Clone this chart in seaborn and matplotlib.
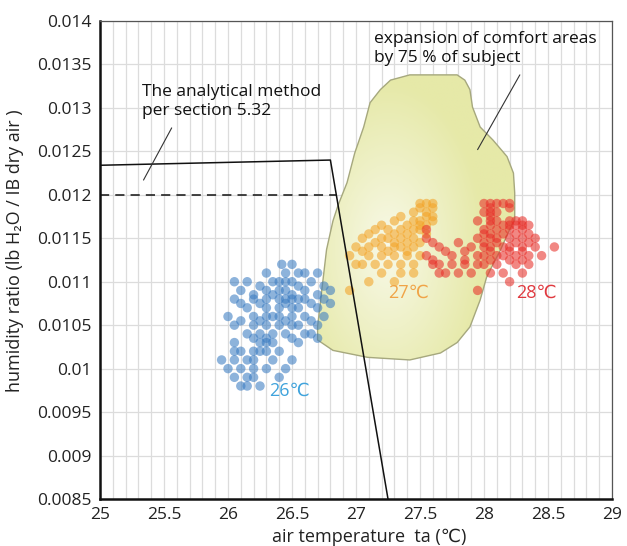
import numpy as np
import pandas as pd
import matplotlib
matplotlib.use("Agg")
import matplotlib.pyplot as plt
from matplotlib.patches import Polygon
from matplotlib.colors import LinearSegmentedColormap
import seaborn as sns

# --- data ---
# 26 C group: (humidity row, list of air temperatures)
blue_rows = [
    (0.0112, [26.42, 26.5]),
    (0.0111, [26.3, 26.45, 26.55, 26.6, 26.7]),
    (0.0110, [26.05, 26.15, 26.35, 26.4, 26.45, 26.5, 26.65]),
    (0.01095, [26.25, 26.55, 26.75]),
    (0.0109, [26.1, 26.3, 26.4, 26.45, 26.6, 26.8]),
    (0.01085, [26.2, 26.35, 26.5, 26.7]),
    (0.0108, [26.05, 26.2, 26.3, 26.4, 26.45, 26.5, 26.55, 26.6, 26.75]),
    (0.01075, [26.1, 26.25, 26.45, 26.65, 26.8]),
    (0.0107, [26.15, 26.3, 26.4, 26.5, 26.55, 26.7]),
    (0.0106, [26.0, 26.2, 26.3, 26.35, 26.4, 26.5, 26.6, 26.75]),
    (0.01055, [26.1, 26.25, 26.45, 26.65]),
    (0.0105, [26.05, 26.2, 26.3, 26.4, 26.5, 26.55, 26.7]),
    (0.0104, [26.15, 26.25, 26.35, 26.45, 26.6, 26.65]),
    (0.01035, [26.2, 26.3, 26.5, 26.7]),
    (0.0103, [26.05, 26.25, 26.3, 26.35, 26.55]),
    (0.0102, [26.05, 26.1, 26.2, 26.25, 26.3, 26.4]),
    (0.0101, [25.95, 26.05, 26.15, 26.2, 26.35, 26.5]),
    (0.0100, [26.0, 26.1, 26.2, 26.3, 26.45]),
    (0.0099, [26.05, 26.15, 26.2, 26.4]),
    (0.0098, [26.1, 26.15, 26.25]),
]
orange_rows = [
    (0.0119, [27.5, 27.55, 27.6]),
    (0.01185, [27.5, 27.6]),
    (0.0118, [27.45, 27.55]),
    (0.01175, [27.35, 27.55, 27.6]),
    (0.0117, [27.3, 27.45, 27.5, 27.6]),
    (0.01165, [27.2, 27.4, 27.5, 27.55]),
    (0.0116, [27.15, 27.25, 27.35, 27.45, 27.5]),
    (0.01155, [27.1, 27.3, 27.4, 27.55]),
    (0.0115, [27.05, 27.2, 27.25, 27.35, 27.45]),
    (0.01145, [27.15, 27.3, 27.4, 27.5]),
    (0.0114, [27.0, 27.1, 27.2, 27.3, 27.35, 27.45]),
    (0.01135, [27.05, 27.25, 27.4]),
    (0.0113, [26.95, 27.1, 27.2, 27.3, 27.4, 27.5]),
    (0.0112, [27.0, 27.05, 27.15, 27.25, 27.35, 27.45]),
    (0.0111, [27.2, 27.35, 27.45]),
    (0.0110, [27.1, 27.3]),
    (0.0109, [26.95]),
]
red_rows = [
    (0.0119, [28.0, 28.05, 28.1, 28.15, 28.2]),
    (0.01185, [28.05, 28.2]),
    (0.0118, [28.0, 28.05, 28.1]),
    (0.01175, [28.05]),
    (0.0117, [27.95, 28.05, 28.1, 28.2, 28.25, 28.3]),
    (0.01165, [28.05, 28.15, 28.2, 28.25, 28.3, 28.35]),
    (0.0116, [27.55, 28.0, 28.1, 28.2, 28.3]),
    (0.01155, [28.0, 28.05, 28.15, 28.25, 28.35]),
    (0.0115, [27.55, 27.95, 28.05, 28.1, 28.2, 28.3, 28.4]),
    (0.01145, [27.6, 27.8, 28.0, 28.1, 28.25, 28.35]),
    (0.0114, [27.65, 27.9, 28.0, 28.05, 28.15, 28.2, 28.3, 28.4, 28.55]),
    (0.01135, [27.7, 27.85, 28.05, 28.2, 28.3]),
    (0.0113, [27.55, 27.75, 27.95, 28.0, 28.1, 28.15, 28.25, 28.35, 28.45]),
    (0.01125, [27.6, 27.85, 28.05, 28.2, 28.3]),
    (0.0112, [27.6, 27.65, 27.75, 27.85, 27.95, 28.0, 28.1, 28.25, 28.35]),
    (0.0111, [27.65, 27.7, 27.8, 27.9, 28.05, 28.15, 28.3]),
    (0.0110, [28.2]),
    (0.0109, [27.95]),
]

# comfort area outline (75 % of subjects), clockwise from top left
comfort_t = [27.27, 27.42, 27.79, 27.85, 27.89, 27.91, 27.97, 28.07, 28.18, 28.23,
             28.24, 28.24, 28.20, 28.13, 28.06, 28.02, 27.97, 27.89, 27.79, 27.66,
             27.42, 27.09, 26.82, 26.70, 26.70, 26.73, 26.77, 26.82, 26.86, 26.93,
             26.99, 27.06, 27.11, 27.19]
comfort_h = [0.01332, 0.01338, 0.01338, 0.01332, 0.01321, 0.01301, 0.01278, 0.01263,
             0.01244, 0.01225, 0.01202, 0.01171, 0.01160, 0.01137, 0.01117, 0.01105,
             0.01079, 0.01048, 0.01030, 0.01018, 0.01010, 0.01013, 0.01021, 0.01033,
             0.01048, 0.01087, 0.01137, 0.01170, 0.01188, 0.01214, 0.01248, 0.01278,
             0.01306, 0.01321]

# analytical method boundary
method_t = [25.0, 26.80, 27.25]
method_h = [0.01234, 0.01240, 0.0085]
dashed_t = [25.0, 26.84]
dashed_h = [0.0120, 0.0120]

# leader lines of the two notes
leader1_t = [25.34, 25.56]
leader1_h = [0.01217, 0.01277]
leader2_t = [28.28, 27.95]
leader2_h = [0.01338, 0.01252]

x_ticks = [25, 25.5, 26, 26.5, 27, 27.5, 28, 28.5, 29]
y_ticks = [0.0085, 0.009, 0.0095, 0.01, 0.0105, 0.011, 0.0115, 0.012, 0.0125,
           0.013, 0.0135, 0.014]
y_tick_labels = ["0.0085", "0.009", "0.0095", "0.01", "0.0105", "0.011", "0.0115",
                 "0.012", "0.0125", "0.013", "0.0135", "0.014"]


def rows_to_frame(rows, group):
    recs = [(t, h, group) for h, ts in rows for t in ts]
    return pd.DataFrame(recs, columns=["ta", "hr", "group"])


df = pd.concat([rows_to_frame(blue_rows, "26"),
                rows_to_frame(orange_rows, "27"),
                rows_to_frame(red_rows, "28")], ignore_index=True)

sns.set_style("white")
plt.rcParams["font.family"] = ["Open Sans", "DejaVu Sans"]

fig = plt.figure(figsize=(6.27, 5.46), dpi=100)
ax = fig.add_axes([100 / 627, 47 / 546, 512 / 627, 478 / 546])

ax.set_xlim(25, 29)
ax.set_ylim(0.0085, 0.014)

# grid
ax.set_xticks(np.arange(25, 29.001, 0.1), minor=True)
ax.set_xticks(x_ticks)
ax.set_xticklabels([f"{v:g}" for v in x_ticks])
ax.set_yticks(y_ticks)
ax.set_yticklabels(y_tick_labels)
ax.grid(which="both", axis="x", color="#dcdcdc", lw=0.9)
ax.grid(which="major", axis="y", color="#dcdcdc", lw=0.9)
ax.tick_params(which="both", length=0, labelsize=12.5, colors="#222222", pad=6)
ax.set_axisbelow(True)

for side in ["top", "right"]:
    ax.spines[side].set_color("#555555")
    ax.spines[side].set_linewidth(0.9)
for side in ["left", "bottom"]:
    ax.spines[side].set_color("#111111")
    ax.spines[side].set_linewidth(1.8)

# comfort area with soft light centre
outline = np.column_stack([comfort_t, comfort_h])
poly = Polygon(outline, closed=True, facecolor="#e6e9a8", edgecolor="none", zorder=1)
ax.add_patch(poly)
gx, gy = np.meshgrid(np.linspace(26.6, 28.3, 200), np.linspace(0.0100, 0.0135, 200))
dist = np.sqrt(((gx - 27.25) / 0.75) ** 2 + ((gy - 0.0114) / 0.0019) ** 2)
cmap = LinearSegmentedColormap.from_list("comfort", ["#f8f9e8", "#eff1c8", "#e6e9a8"])
img = ax.imshow(np.clip(dist, 0, 1), extent=[26.6, 28.3, 0.0100, 0.0135], origin="lower",
                cmap=cmap, vmin=0, vmax=1, aspect="auto", zorder=1.1)
img.set_clip_path(poly)
edge = Polygon(outline, closed=True, facecolor="none", edgecolor="#a6a87e",
               lw=1.0, joinstyle="round", zorder=1.2)
ax.add_patch(edge)

# scatter clouds
palette = {"26": "#3b7cc2", "27": "#f3a428", "28": "#e8302a"}
sns.scatterplot(data=df, x="ta", y="hr", hue="group", palette=palette, s=46,
                alpha=0.58, edgecolor="none", legend=False, ax=ax, zorder=3)

# analytical method boundary
ax.plot(method_t, method_h, color="#111111", lw=1.1, zorder=4)
ax.plot(dashed_t, dashed_h, color="#111111", lw=1.1, ls=(0, (6, 4)), zorder=4)

# notes
ax.plot(leader1_t, leader1_h, color="#333333", lw=0.8, zorder=4)
ax.plot(leader2_t, leader2_h, color="#333333", lw=0.8, zorder=4)
ax.text(25.33, 0.01327, "The analytical method\nper section 5.32", fontsize=12.5,
        color="#111111", ha="left", va="top", linespacing=1.25, zorder=5)
ax.text(27.14, 0.01388, "expansion of comfort areas\nby 75 % of subject", fontsize=12.5,
        color="#111111", ha="left", va="top", linespacing=1.2, zorder=5)

# group labels
ax.text(26.48, 0.00975, "26℃", color="#3fa3dc", fontsize=13, ha="center", va="center", zorder=5)
ax.text(27.41, 0.01087, "27℃", color="#f0a447", fontsize=13, ha="center", va="center", zorder=5)
ax.text(28.41, 0.01087, "28℃", color="#e0393f", fontsize=13, ha="center", va="center", zorder=5)

ax.set_xlabel("air temperature  ta (℃)", fontsize=13, color="#222222")
ax.xaxis.set_label_coords(0.525, -0.06)
ax.set_ylabel("humidity ratio (lb H₂O / IB dry air )", fontsize=13, color="#222222")
ax.yaxis.set_label_coords(-0.148, 0.52)

fig.savefig("out.png", dpi=100)
